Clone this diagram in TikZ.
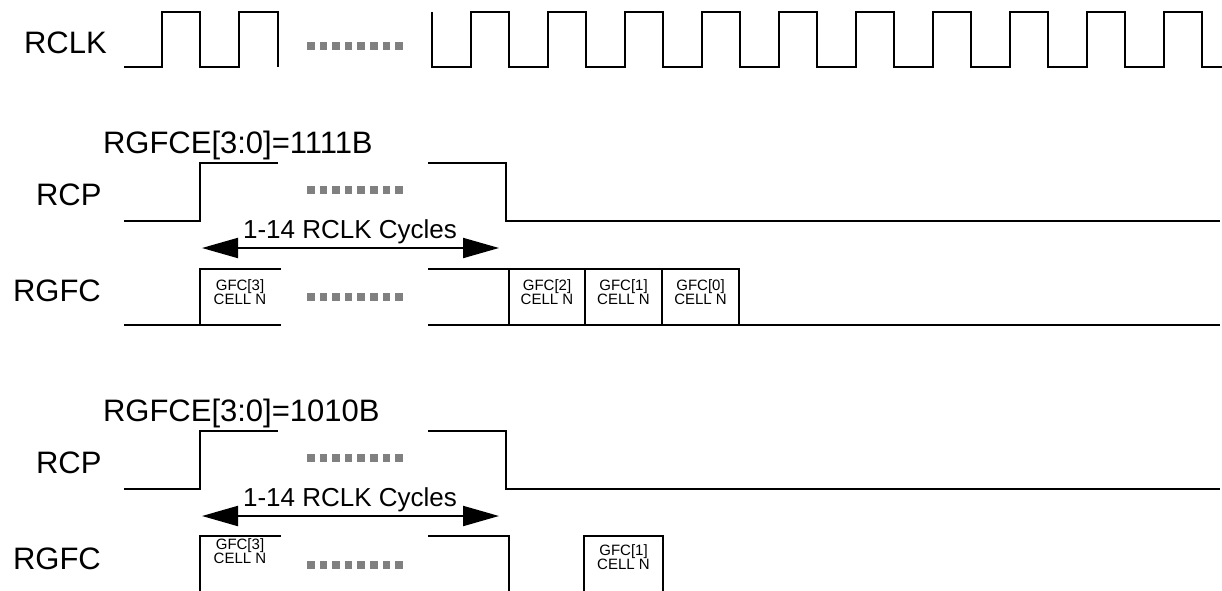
\documentclass[tikz,border=0pt]{standalone}
\usepackage{fontspec}
\setmainfont{Liberation Sans}
\usepackage{tikz}
\usetikzlibrary{positioning,calc}
\usetikzlibrary{arrows.meta}

\begin{document}
\begin{tikzpicture}[x=1pt, y=-1pt, line width=2pt,
    sig/.style={font=\fontsize{31}{31}\selectfont, inner sep=0pt, anchor=base west},
    span/.style={font=\fontsize{26}{26}\selectfont, inner sep=0pt, anchor=base},
    cell/.style={font=\fontsize{15}{14}\selectfont, inner sep=0pt, align=center},
    cyc/.style={>={Triangle[length=36pt,width=20pt]}, <->},
    dotbox/.style={fill=gray, draw=none}]
  \fill[white] (0,0) rectangle (1222,590);
  \useasboundingbox (0,0) rectangle (1222,590);

  \node[sig] (rclk) at (23,53) {RCLK};
  \draw (124,67) -- (162,67) -- (162,12) -- (200,12) -- (200,67) -- (239,67) -- (239,12) -- (278,12) -- (278,67);
  \draw (432,12) -- (432,67) \foreach \k in {0,...,9}{ -- ({470.5+77*\k},67) -- ({470.5+77*\k},12) -- ({509+77*\k},12) -- ({509+77*\k},67)} -- (1222,67);

  \foreach \y in {46,190,297,458,565}
    \foreach \k in {0,...,7}
      \fill[dotbox] ({307+12.6*\k},{\y-4}) rectangle +(7.6,8);

  \foreach \dy/\code in {0/1111B,268/1010B}{
    \begin{scope}[shift={(0,\dy)}]
      \node[sig] (rgfce\code) at (102,153) {RGFCE[3:0]=\code};
      \node[sig] (rcp\code) at (35,205) {RCP};
      \node[sig] (rgfc\code) at (12,301) {RGFC};
      \draw (124,221) -- (200,221) -- (200,163) -- (278,163);
      \draw (428,163) -- (506,163) -- (506,221) -- (1220,221);
      \coordinate (from\code) at (202,248);
      \coordinate (to\code) at (499,248);
      \draw[cyc] (from\code) -- (to\code);
      \node[span] (cyc\code) at (350,238) {1-14 RCLK Cycles};
    \end{scope}
  }

  \draw (124,325) -- (281,325) (428,325) -- (1220,325);
  \draw (200,325) -- (200,269) -- (281,269);
  \draw (428,269) -- (739,269) -- (739,325);
  \foreach \x in {509,585,662}
    \draw (\x,269) -- (\x,325);
  \foreach \x/\n in {240/3,547/2,623.5/1,700.5/0}
    \node[cell] (gfc\n) at (\x,292) {GFC[\n]\\CELL N};

  \draw (200,592) -- (200,536) -- (281,536);
  \draw (428,536) -- (509,536) -- (509,592);
  \draw (584,592) -- (584,536) -- (663,536) -- (663,592);
  \node[cell] (lowgfc3) at (240,551) {GFC[3]\\CELL N};
  \node[cell] (lowgfc1) at (623.5,557) {GFC[1]\\CELL N};
\end{tikzpicture}
\end{document}
